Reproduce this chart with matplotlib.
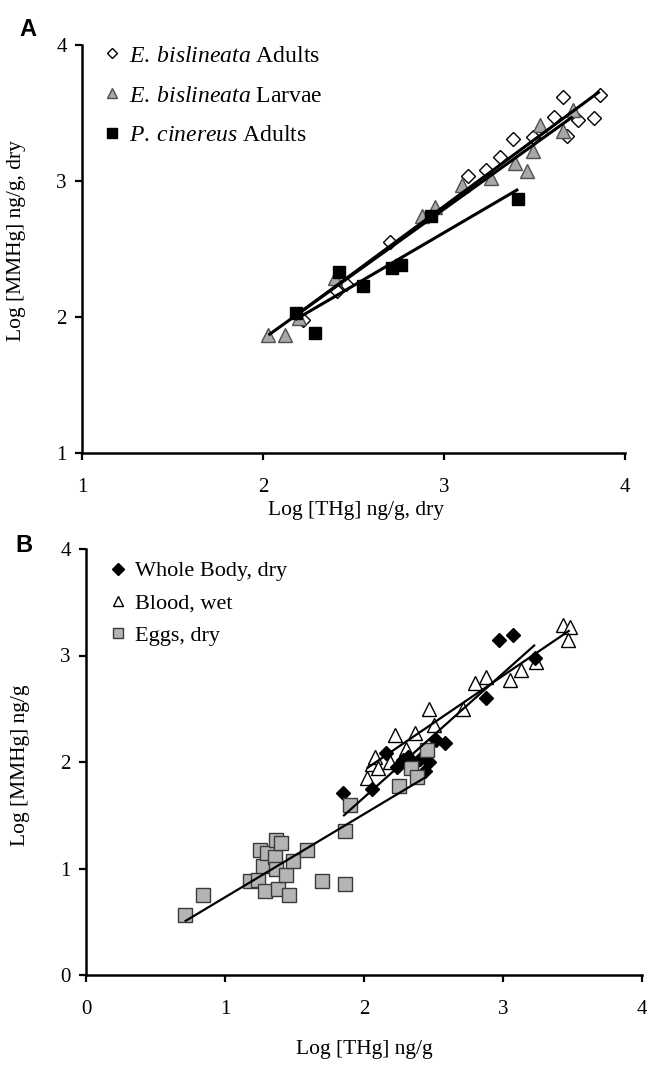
import numpy as np
import matplotlib
matplotlib.use("Agg")
import matplotlib.pyplot as plt

# ---------------- data ----------------
# Panel A
a_adult_x = [2.22, 2.41, 2.46, 2.70, 3.13, 3.23, 3.31, 3.38, 3.49, 3.61, 3.66, 3.68, 3.74, 3.83, 3.86]
a_adult_y = [1.98, 2.19, 2.24, 2.55, 3.04, 3.08, 3.18, 3.31, 3.32, 3.47, 3.62, 3.33, 3.45, 3.46, 3.63]
a_larv_x = [2.03, 2.12, 2.20, 2.40, 2.88, 2.95, 3.10, 3.26, 3.39, 3.46, 3.49, 3.53, 3.66, 3.71]
a_larv_y = [1.87, 1.87, 1.99, 2.29, 2.74, 2.81, 2.97, 3.02, 3.13, 3.07, 3.22, 3.41, 3.37, 3.52]
a_cin_x = [2.18, 2.29, 2.42, 2.55, 2.71, 2.76, 2.93, 3.41]
a_cin_y = [2.03, 1.88, 2.33, 2.23, 2.36, 2.38, 2.74, 2.87]
a_labels = [r"$\it{E.\:bislineata}$ Adults", r"$\it{E.\:bislineata}$ Larvae",
            r"$\it{P.\:cinereus}$ Adults"]

# Panel B
b_body_x = [1.85, 2.06, 2.16, 2.24, 2.28, 2.32, 2.36, 2.40, 2.44, 2.47, 2.52, 2.58, 2.88, 2.97, 3.07, 3.23]
b_body_y = [1.71, 1.75, 2.08, 1.95, 2.02, 2.05, 1.98, 2.03, 1.92, 2.00, 2.21, 2.18, 2.60, 3.15, 3.19, 2.98]
b_blood_x = [2.02, 2.06, 2.08, 2.10, 2.19, 2.22, 2.30, 2.37, 2.47, 2.50, 2.71, 2.80, 2.88, 3.05, 3.13, 3.24, 3.43, 3.48, 3.47]
b_blood_y = [1.85, 1.98, 2.05, 1.94, 2.00, 2.25, 2.12, 2.27, 2.50, 2.35, 2.50, 2.74, 2.80, 2.77, 2.86, 2.94, 3.29, 3.27, 3.15]
b_egg_x = [0.71, 0.84, 1.18, 1.24, 1.25, 1.27, 1.29, 1.30, 1.36, 1.37, 1.37, 1.38, 1.40, 1.44, 1.46, 1.49,
           1.59, 1.70, 1.86, 1.86, 1.90, 2.25, 2.34, 2.38, 2.45]
b_egg_y = [0.56, 0.75, 0.88, 0.89, 1.17, 1.02, 0.79, 1.15, 1.11, 1.27, 1.00, 0.81, 1.24, 0.94, 0.75, 1.07,
           1.17, 0.88, 0.85, 1.35, 1.60, 1.77, 1.94, 1.86, 2.11]
b_labels = ["Whole Body, dry", "Blood, wet", "Eggs, dry"]

a_xticks = [1, 2, 3, 4]
a_yticks = [1, 2, 3, 4]
b_xticks = [0, 1, 2, 3, 4]
b_yticks = [0, 1, 2, 3, 4]

# ---------------- style ----------------
plt.rcParams['font.family'] = ['Liberation Serif', 'DejaVu Serif']
plt.rcParams['mathtext.fontset'] = 'custom'
plt.rcParams['mathtext.rm'] = 'Liberation Serif'
plt.rcParams['mathtext.it'] = 'Liberation Serif:italic'

W, H = 647, 1074
fig = plt.figure(figsize=(W / 100, H / 100), dpi=100)


def px_axes(l, r, t, b):
    return fig.add_axes([l / W, 1 - b / H, (r - l) / W, (b - t) / H])


def style(ax):
    for s in ('top', 'right'):
        ax.spines[s].set_visible(False)
    for s in ('left', 'bottom'):
        ax.spines[s].set_linewidth(1.8)
    ax.tick_params(direction='out', length=5, width=1.6, labelsize=15, color='black')
    ax.tick_params(axis='x', pad=13)
    ax.tick_params(axis='y', pad=6)


def fitline(ax, x, y, lw, z):
    x = np.asarray(x)
    y = np.asarray(y)
    m, c = np.polyfit(x, y, 1)
    xs = np.array([x.min(), x.max()])
    ax.plot(xs, m * xs + c, color='black', lw=lw, zorder=z, solid_capstyle='butt')


# ---------------- Panel A ----------------
axA = px_axes(82, 625, 45, 453)
style(axA)
axA.set_xlim(1, 4)
axA.set_ylim(1, 4)
axA.set_xticks(a_xticks)
axA.set_yticks(a_yticks)

hA1, = axA.plot(a_adult_x, a_adult_y, ls='none', marker='D', ms=7, mfc='white', mec='black', mew=1.0, zorder=3)
hA2, = axA.plot(a_larv_x, a_larv_y, ls='none', marker='^', ms=9.5, mfc='#a8a8a8', mec='#505050', mew=1.0, zorder=4)
hA3, = axA.plot(a_cin_x, a_cin_y, ls='none', marker='s', ms=9, mfc='black', mec='black', mew=1.0, zorder=5)
fitline(axA, a_larv_x, a_larv_y, 2.2, 6)
fitline(axA, a_adult_x, a_adult_y, 2.2, 6)
fitline(axA, a_cin_x, a_cin_y, 2.2, 6)

axA.set_xlabel("Log [THg] ng/g, dry", fontsize=15.5, va='center')
axA.xaxis.set_label_coords(0.505, -0.14)
axA.set_ylabel("Log [MMHg] ng/g, dry", fontsize=15.5, va='center')
axA.yaxis.set_label_coords(-0.12, 0.52)

legA = axA.legend([hA1, hA2, hA3], a_labels, loc='upper left', bbox_to_anchor=(0.02, 1.023),
                  frameon=False, fontsize=17, handlelength=0.8, handletextpad=0.32,
                  labelspacing=0.78, borderpad=0.4, borderaxespad=0, markerscale=0.75)

fig.text(28 / W, 1 - 30 / H, "A", fontsize=17, fontweight='bold', family='Liberation Sans',
         ha='center', va='center')

# ---------------- Panel B ----------------
axB = px_axes(86, 642, 549, 975)
style(axB)
axB.set_xlim(0, 4)
axB.set_ylim(0, 4)
axB.set_xticks(b_xticks)
axB.set_yticks(b_yticks)

hB2, = axB.plot(b_blood_x, b_blood_y, ls='none', marker='^', ms=10, mfc='white', mec='black', mew=1.0, zorder=3)
hB1, = axB.plot(b_body_x, b_body_y, ls='none', marker='D', ms=7.5, mfc='black', mec='black', mew=1.0, zorder=4)
hB3, = axB.plot(b_egg_x, b_egg_y, ls='none', marker='s', ms=9.5, mfc='#b4b4b4', mec='#3a3a3a', mew=1.0, zorder=5)
fitline(axB, b_blood_x, b_blood_y, 1.6, 6)
fitline(axB, b_body_x, b_body_y, 1.6, 6)
fitline(axB, b_egg_x, b_egg_y, 1.6, 6)

axB.set_xlabel("Log [THg] ng/g", fontsize=15.5, va='center')
axB.xaxis.set_label_coords(0.5, -0.175)
axB.set_ylabel("Log [MMHg] ng/g", fontsize=15.5, va='center')
axB.yaxis.set_label_coords(-0.117, 0.493)

legB = axB.legend([hB1, hB2, hB3], b_labels, loc='upper left', bbox_to_anchor=(0.025, 0.993),
                  frameon=False, fontsize=16, handlelength=0.8, handletextpad=0.36,
                  labelspacing=0.52, borderpad=0.4, borderaxespad=0, markerscale=0.75)

fig.text(24 / W, 1 - 546 / H, "B", fontsize=17, fontweight='bold', family='Liberation Sans',
         ha='center', va='center')

fig.savefig("out.png", dpi=100)
